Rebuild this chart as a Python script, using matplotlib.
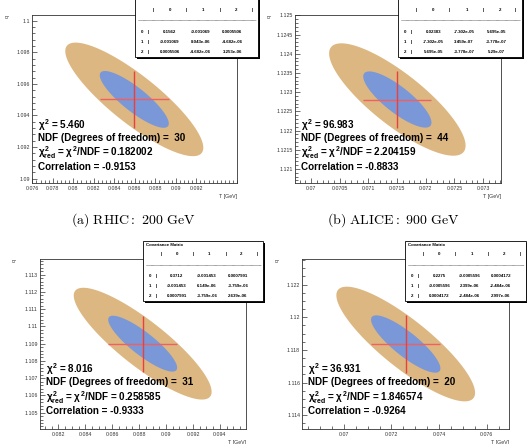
import numpy as np
import matplotlib
matplotlib.use("Agg")
import matplotlib.pyplot as plt
from matplotlib.patches import Rectangle
from matplotlib.ticker import FixedLocator, MultipleLocator

plt.rcParams['font.family'] = ['Liberation Sans', 'DejaVu Sans']
plt.rcParams['mathtext.fontset'] = 'custom'
plt.rcParams['mathtext.rm'] = 'Liberation Sans:bold'
plt.rcParams['mathtext.it'] = 'Liberation Sans:bold'
plt.rcParams['mathtext.bf'] = 'Liberation Sans:bold'

# ---------------- data ----------------
CAPTIONS = [r'$\mathrm{(a)\ RHIC{:}\ 200\ GeV}$', r'$\mathrm{(b)\ ALICE{:}\ 900\ GeV}$']
T_CENTER = [0.08595, 0.071505, 0.088266, 0.072598]
Q_CENTER = [1.09502, 1.122808, 1.10900, 1.118364]
T_SIGMA = [0.003366, 0.000595, 0.00256, 0.001458]
Q_SIGMA = [0.00180, 0.000732, 0.00162, 0.001755]
CORRELATION = [-0.9153, -0.8833, -0.9333, -0.9264]
# tilt of the drawn contours (they look plumper than the printed value)
CONTOUR_RHO = [-0.85, -0.82, -0.86, -0.85]
CHI2 = ['5.460', '96.983', '8.016', '36.931']
NDF = ['30', '44', '31', '20']
CHI2_RED = ['0.182002', '2.204159', '0.258585', '1.846574']

COV_A = [['0.1562', '-0.001069', '0.0005506'],
         ['-0.001069', '8.043e-06', '-4.682e-06'],
         ['0.0005506', '-4.682e-06', '3.253e-06']]
COV_B = [['0.02383', '-7.302e-05', '5.695e-05'],
         ['-7.302e-05', '3.459e-07', '-3.778e-07'],
         ['5.695e-05', '-3.778e-07', '5.29e-07']]
COV_C = [['0.3712', '-0.001453', '0.0007991'],
         ['-0.001453', '6.149e-06', '-3.759e-06'],
         ['0.0007991', '-3.759e-06', '2.639e-06']]
COV_D = [['0.2275', '-0.0005596', '0.0004172'],
         ['-0.0005596', '2.399e-06', '-2.484e-06'],
         ['0.0004172', '-2.484e-06', '2.997e-06']]
COVS = [COV_A, COV_B, COV_C, COV_D]

X_LIM = [(0.0760, 0.0960), (0.06972, 0.073318), (0.08064, 0.09594), (0.06825, 0.07694)]
Y_LIM = [(1.0897, 1.10037), (1.120625, 1.12501), (1.10407, 1.11389), (1.11318, 1.12355)]
X_TICKS = [[0.076, 0.078, 0.080, 0.082, 0.084, 0.086, 0.088, 0.090, 0.092],
           [0.0700, 0.0705, 0.0710, 0.0715, 0.0720, 0.0725, 0.0730],
           [0.082, 0.084, 0.086, 0.088, 0.090, 0.092, 0.094],
           [0.070, 0.072, 0.074, 0.076]]
X_TICK_LABELS = [['0.076', '0.078', '0.08', '0.082', '0.084', '0.086', '0.088', '0.09', '0.092'],
                 ['0.07', '0.0705', '0.071', '0.0715', '0.072', '0.0725', '0.073'],
                 ['0.082', '0.084', '0.086', '0.088', '0.09', '0.092', '0.094'],
                 ['0.07', '0.072', '0.074', '0.076']]
Y_TICKS = [[1.090, 1.092, 1.094, 1.096, 1.098, 1.100],
           [1.1210, 1.1215, 1.1220, 1.1225, 1.1230, 1.1235, 1.1240, 1.1245, 1.1250],
           [1.105, 1.106, 1.107, 1.108, 1.109, 1.110, 1.111, 1.112, 1.113],
           [1.114, 1.116, 1.118, 1.120, 1.122]]
Y_TICK_LABELS = [['1.09', '1.092', '1.094', '1.096', '1.098', '1.1'],
                 ['1.121', '1.1215', '1.122', '1.1225', '1.123', '1.1235', '1.124', '1.1245', '1.125'],
                 ['1.105', '1.106', '1.107', '1.108', '1.109', '1.11', '1.111', '1.112', '1.113'],
                 ['1.114', '1.116', '1.118', '1.12', '1.122']]
X_MINOR = [0.0004, 0.0001, 0.0005, 0.0005]
Y_MINOR = [0.0004, 0.0001, 0.0002, 0.0005]
X_TITLE = 'T [GeV]'
Y_TITLE = 'q'

# ---------------- layout (pixels) ----------------
W, H = 527, 444
AX_PX = [(32.3, 15, 237.3, 183.3), (295, 15, 501.3, 183.3),
         (40, 259.3, 246, 428.7), (302.3, 259.3, 509, 428.7)]
BOX_PX = [(135, -3, 258, 57), (398, -3, 522, 57),
          (143, 241, 263, 301), (405, 241, 526, 301)]
BOX_TITLE = [False, False, True, True]
CAPTION_POS = [(133.5, 220), (393.5, 220)]

OUTER = '#ddb781'
INNER = '#7a97d8'
CROSS_V = '#e8403c'
CROSS_H = '#f06060'


def frac(l, t, r, b):
    return [l / W, 1 - b / H, (r - l) / W, (b - t) / H]


fig = plt.figure(figsize=(W / 100, H / 100), dpi=100)
fig.patch.set_facecolor('white')

tt = np.linspace(0, 2 * np.pi, 500)
for i in range(4):
    l, t, r, b = AX_PX[i]
    ax = fig.add_axes(frac(l, t, r, b))
    cx, cy, sx, sy, rho = T_CENTER[i], Q_CENTER[i], T_SIGMA[i], Q_SIGMA[i], CONTOUR_RHO[i]
    for k, col in [(2, OUTER), (1, INNER)]:
        ex = cx + k * sx * np.cos(tt)
        ey = cy + k * sy * (rho * np.cos(tt) + np.sqrt(1 - rho ** 2) * np.sin(tt))
        ax.fill(ex, ey, color=col, lw=0)
    ax.plot([cx - sx, cx + sx], [cy, cy], color=CROSS_H, lw=1.0, solid_capstyle='butt')
    ax.plot([cx, cx], [cy - sy, cy + sy], color=CROSS_V, lw=1.0, solid_capstyle='butt')
    ax.set_xlim(*X_LIM[i])
    ax.set_ylim(*Y_LIM[i])
    ax.xaxis.set_major_locator(FixedLocator(X_TICKS[i]))
    ax.set_xticklabels(X_TICK_LABELS[i])
    ax.yaxis.set_major_locator(FixedLocator(Y_TICKS[i]))
    ax.set_yticklabels(Y_TICK_LABELS[i])
    ax.xaxis.set_minor_locator(MultipleLocator(X_MINOR[i]))
    ax.yaxis.set_minor_locator(MultipleLocator(Y_MINOR[i]))
    ax.tick_params(which='both', direction='in', top=False, right=False,
                   width=0.5, colors='#333333', labelsize=3.8)
    ax.tick_params(which='major', length=3.8)
    ax.tick_params(which='minor', length=1.9)
    ax.tick_params(axis='x', which='major', pad=2.2)
    ax.tick_params(axis='y', which='major', pad=1.6)
    for sp in ax.spines.values():
        sp.set_linewidth(0.6)
        sp.set_color('#333333')

# overlay in pixel coordinates
ov = fig.add_axes([0, 0, 1, 1], zorder=10)
ov.set_xlim(0, W)
ov.set_ylim(H, 0)
ov.axis('off')

for i in range(4):
    l, t, r, b = AX_PX[i]
    ov.text(r, b + 13.5, X_TITLE, ha='right', va='center', fontsize=3.8, color='#333333')
    ov.text(l - 25.5, t, Y_TITLE, ha='center', va='top', rotation=90, fontsize=3.8, color='#333333')
    x0 = l + 6
    ys = [t + 110, t + 123, t + 138, t + 152]
    lines = [r'$\chi^{2}$ = ' + CHI2[i],
             'NDF (Degrees of freedom) =  ' + NDF[i],
             r'$\chi^{2}_{\rm red}$ = $\chi^{2}$/NDF = ' + CHI2_RED[i],
             'Correlation = ' + f'{CORRELATION[i]:.4f}']
    for yy, s in zip(ys, lines):
        ov.text(x0, yy, s, ha='left', va='center', fontsize=7.1, fontweight='bold',
                color='black', math_fontfamily='custom')

for i in range(4):
    l, t, r, b = BOX_PX[i]
    w = r - l
    ov.add_patch(Rectangle((l + 1.6, t + 1.6), w, b - t, facecolor='black', edgecolor='none', zorder=1))
    ov.add_patch(Rectangle((l, t), w, b - t, facecolor='white', edgecolor='black', lw=0.6, zorder=2))
    s = w / 120.0
    fs = 3.2
    if BOX_TITLE[i]:
        ov.text(l + 3.5, b - 56.5, 'Covariance Matrix', ha='left', va='center', fontsize=fs,
                fontweight='bold', zorder=3)
    yh = b - 47
    for xp in [18, 50, 83, 114]:
        ov.text(l + xp * s, yh, '|', ha='center', va='center', fontsize=fs, fontweight='bold', zorder=3)
    for xp, lab in zip([34, 66.5, 98.5], ['0', '1', '2']):
        ov.text(l + xp * s, yh, lab, ha='center', va='center', fontsize=fs, fontweight='bold', zorder=3)
    ov.plot([l + 2.5, r - 2.5], [b - 36.5, b - 36.5], color='#444444', lw=0.45,
            ls=(0, (1.2, 0.6)), zorder=3)
    for j, yy in enumerate([b - 25, b - 15, b - 5]):
        ov.text(l + 7 * s, yy, str(j), ha='center', va='center', fontsize=fs, fontweight='bold', zorder=3)
        ov.text(l + 13 * s, yy, '|', ha='center', va='center', fontsize=fs, fontweight='bold', zorder=3)
        for xp, val in zip([34, 64, 95], COVS[i][j]):
            ov.text(l + xp * s, yy, val, ha='center', va='center', fontsize=fs,
                    fontweight='bold', zorder=3)

for (cxp, cyp), cap in zip(CAPTION_POS, CAPTIONS):
    ov.text(cxp, cyp, cap, ha='center', va='center', fontsize=10, math_fontfamily='cm')

fig.savefig('out.png', dpi=100)
